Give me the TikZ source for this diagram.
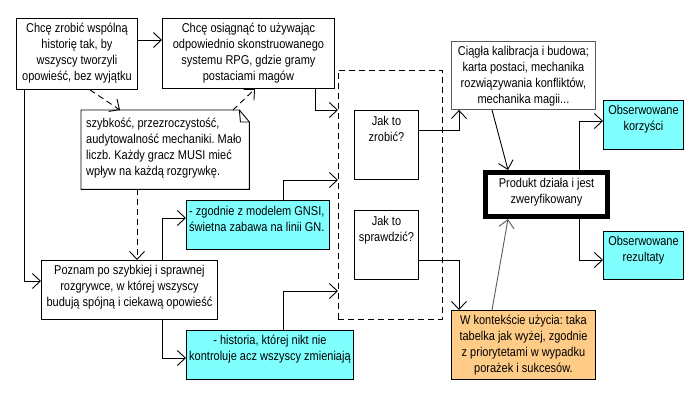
\documentclass[tikz,border=0pt]{standalone}
\usepackage{fontspec}
\setmainfont{Liberation Sans}[FakeStretch=0.86]
\frenchspacing
\usetikzlibrary{arrows.meta}
\definecolor{cyanbox}{RGB}{128,255,255}
\definecolor{orangebox}{RGB}{255,204,136}
\definecolor{edgegray}{RGB}{90,90,90}
\begin{document}
\begin{tikzpicture}[x=1pt,y=-1pt,
  every node/.style={font=\fontsize{12.8}{16}\selectfont},
  box/.style={draw=black, line width=0.9pt, inner sep=0pt, anchor=north west},
  txt/.style={inner sep=0pt, align=center, anchor=north},
  ltxt/.style={inner sep=0pt, align=left, anchor=north west},
  arr/.style={draw=black, line width=0.9pt, -{Straight Barb[length=8pt,width=15pt,line width=0.9pt]}},
  darr/.style={arr, dash pattern=on 6pt off 4pt},
  grayarr/.style={arr, draw=edgegray},
]
\useasboundingbox (0,0) rectangle (700,400);

% boxes
\node[box, minimum width=121, minimum height=71] (A) at (16,18) {};
\node[txt] (At) at ([yshift=-5]A.north) {Chcę zrobić wspólną\\historię tak, by\\wszyscy tworzyli\\opowieść, bez wyjątku};

\node[box, minimum width=172, minimum height=70] (B) at (162,18) {};
\node[txt] (Bt) at ([yshift=-5]B.north) {Chcę osiągnąć to używając\\odpowiednio skonstruowanego\\systemu RPG, gdzie gramy\\postaciami magów};

\node[inner sep=0pt, anchor=north west, minimum width=168, minimum height=79] (N) at (81,110) {};
\draw[line width=0.9pt] (N.north west) -- ([xshift=-10]N.north east) -- ([yshift=-12]N.north east) -- (N.south east) -- (N.south west) -- cycle;
\draw[line width=0.9pt] ([xshift=-10]N.north east) -- ([xshift=-9,yshift=-12]N.north east) -- ([yshift=-12]N.north east);
\node[ltxt] (Nt) at ([xshift=5,yshift=-8]N.north west) {szybkość, przezroczystość,\\audytowalność mechaniki. Mało\\liczb. Każdy gracz MUSI mieć\\wpływ na każdą rozgrywkę.};

\node[box, minimum width=176, minimum height=59] (P) at (41,260) {};
\node[txt] (Pt) at ([yshift=-5]P.north) {Poznam po szybkiej i sprawnej\\rozgrywce, w której wszyscy\\budują spójną i ciekawą opowieść};

\node[box, fill=cyanbox, minimum width=143, minimum height=49] (G) at (186,200) {};
\node[ltxt] (Gt) at ([xshift=3,yshift=-6]G.north west) {- zgodnie z modelem GNSI,\\świetna zabawa na linii GN.};

\node[box, fill=cyanbox, minimum width=167, minimum height=49] (H) at (186,330) {};
\node[txt] (Ht) at ([yshift=-5]H.north) {- historia, której nikt nie\\kontroluje acz wszyscy zmieniają};

\node[box, dash pattern=on 6pt off 4pt, minimum width=104, minimum height=249] (D) at (338,70) {};

\node[box, minimum width=64, minimum height=69] (J1) at (354,110) {};
\node[txt] (J1t) at ([yshift=-6]J1.north) {Jak to\\zrobić?};
\node[box, minimum width=64, minimum height=69] (J2) at (354,210) {};
\node[txt] (J2t) at ([yshift=-6]J2.north) {Jak to\\sprawdzić?};

\node[box, draw=edgegray, minimum width=144, minimum height=68] (C) at (451,41) {};
\node[txt] (Ct) at ([yshift=-5]C.north) {Ciągła kalibracja i budowa;\\karta postaci, mechanika\\rozwiązywania konfliktów,\\mechanika magii...};

\node[box, line width=5pt, minimum width=122, minimum height=44] (Pr) at (483,170) {};
\node[txt] (Prt) at ([yshift=-8]Pr.north) {Produkt działa i jest\\zweryfikowany};

\node[box, fill=cyanbox, minimum width=80, minimum height=49] (K) at (603,100) {};
\node[txt] (Kt) at ([yshift=-5]K.north) {Obserwowane\\korzyści};
\node[box, fill=cyanbox, minimum width=80, minimum height=48] (R) at (603,231) {};
\node[txt] (Rt) at ([yshift=-5]R.north) {Obserwowane\\rezultaty};

\node[box, fill=orangebox, minimum width=144, minimum height=69] (W) at (451,310) {};
\node[txt] (Wt) at ([yshift=-5]W.north) {W kontekście użycia: taka\\tabelka jak wyżej, zgodnie\\z priorytetami w wypadku\\porażek i sukcesów.};

% connectors
\draw[arr] (A.east |- 0,40) -- (B.west |- 0,40);
\draw[arr] (A.south -| 24,0) |- (P.west |- 0,281);
\draw[darr] (A.south -| 90,0) -- (N.north -| 120,0);
\draw[darr] (N.north -| 233,0) -- (B.south -| 255,0);
\draw[darr] (N.south -| 137,0) -- (P.north -| 137,0);
\draw[arr] (B.south -| 315,0) |- (D.west |- 0,110);
\draw[arr] (P.north -| 162,0) |- (G.west |- 0,218);
\draw[arr] (G.north -| 283,0) |- (D.west |- 0,180);
\draw[arr] (P.south -| 162,0) |- (H.west |- 0,358);
\draw[arr] (H.north -| 283,0) |- (D.west |- 0,291);
\draw[arr] (J1.east |- 0,130) -| (C.south -| 459,0);
\draw[arr] (J2.east |- 0,260) -| (W.north -| 459,0);
\draw[arr] (C.south -| 492,0) -- (Pr.north -| 508,0);
\draw[grayarr] (W.north -| 492,0) -- (Pr.south -| 508,0);
\draw[arr] (Pr.north -| 579,0) |- (K.west |- 0,121);
\draw[arr] (Pr.south -| 579,0) |- (R.west |- 0,260);
\end{tikzpicture}
\end{document}
